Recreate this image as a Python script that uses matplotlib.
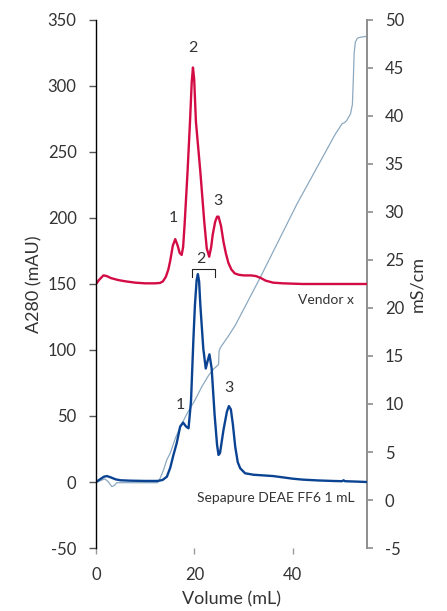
import matplotlib
matplotlib.use('Agg')
import matplotlib.pyplot as plt

plt.rcParams['font.family'] = ['Lato', 'DejaVu Sans']
plt.rcParams['axes.unicode_minus'] = False

# Vendor x (A280, mAU)
vendor_x = [0, 0.6, 1.5, 2.2, 3.0, 4.5, 6, 8, 10, 12, 13, 13.6, 14.2, 14.7, 15.1, 15.6,
            16.1, 16.6, 17.0, 17.4, 17.7, 18.0, 18.6, 19.1, 19.45, 19.7, 19.95, 20.3,
            21.2, 22.0, 22.5, 23.0, 23.4, 23.7, 24.2, 24.6, 24.9, 25.4, 25.9, 26.4,
            26.9, 27.5, 28.2, 29, 30, 31.5, 32.5, 33.5, 34.5, 36, 38, 42, 46, 50, 55]
vendor_y = [150, 153, 156.5, 156, 154.5, 153, 152, 151, 150.5, 150.5, 150.8, 152, 155.5,
            161, 168, 179, 184, 179, 173.5, 172, 178, 195, 235, 273, 303, 314, 305, 273,
            235, 197, 177, 170.7, 178, 187, 197, 201, 201, 194, 182, 173,
            166, 161, 158, 157, 156.5, 156.5, 156, 154.5, 152.5, 151, 150.5, 150, 150, 150, 150]

# Sepapure DEAE FF6 1 mL (A280, mAU)
sepa_x = [0, 0.8, 1.6, 2.2, 3.0, 4.0, 5.0, 7, 10, 12.5, 13.5, 14.4, 15.1, 15.7, 16.4,
          17.1, 17.7, 18.3, 18.8, 19.3, 19.8, 20.1, 20.45, 20.7, 20.95, 21.2, 21.8,
          22.3, 22.7, 23.05, 23.5, 24.1, 24.6, 24.9, 25.2, 25.9, 26.6, 27.0, 27.4,
          27.8, 28.3, 28.8, 29.3, 30.3, 32, 34, 36, 38, 40, 42, 45, 48, 50, 50.3, 50.6, 53, 55]
sepa_y = [0, 2, 4, 4.5, 3.5, 2, 1.3, 1, 0.8, 0.8, 1.5, 4, 11, 20, 29.5,
          42, 45, 42, 40.7, 61, 109, 134, 153, 157.5, 152, 134, 101,
          86, 92, 96.7, 86, 50.8, 28, 20.5, 22, 39.4, 53.3, 57.5, 55,
          44, 26.4, 15, 10.4, 6.6, 5.5, 5, 4.5, 3.5, 2.5, 1.8, 1.2, 0.8, 0.6, 1.3, 0.6, 0.3, 0]

# conductivity (mS/cm)
cond_x = [0, 0.8, 1.8, 2.5, 3.2, 3.7, 4.2, 8, 12.5, 12.8, 13.3, 13.7, 14.4, 15.1, 16.1,
          17.1, 18.5, 20.1, 21.5, 22.9, 24.0, 24.9, 25.0, 25.3, 26.8, 28.3, 33.2, 40.8,
          46.9, 48.5, 49.5, 50.0, 50.5, 50.9, 51.7, 52.1, 52.3, 52.45, 52.7, 53.1, 53.7, 55]
cond_y = [1.8, 2.0, 2.2, 1.9, 1.4, 1.5, 1.8, 1.8, 1.8, 2.0, 2.6, 3.1, 4.2, 4.9, 6.4,
          7.6, 9.0, 10.4, 11.8, 13.0, 13.7, 14.1, 15.5, 15.9, 17.0, 18.2, 23.0, 30.8,
          36.5, 38.0, 38.8, 39.2, 39.3, 39.5, 40.2, 41.2, 44, 46.5, 47.7, 48.1, 48.2, 48.3]

# peak labels (text, x, y)
vendor_peaks = [('1', 15.7, 200), ('2', 19.7, 329), ('3', 24.8, 213)]
sepa_peaks = [('1', 17.1, 58), ('2', 21.4, 169), ('3', 27.1, 71)]

RED = '#D40C45'
BLUE = '#0B4393'
GRAY = '#8CA9C0'
TXT = '#333333'

fig = plt.figure(figsize=(4.47, 6.11), dpi=100)
ax = fig.add_axes([0.2148, 0.1031, 0.6055, 0.8642])
ax2 = ax.twinx()
ax.set_zorder(ax2.get_zorder() + 1)
ax.patch.set_visible(False)

ax2.plot(cond_x, cond_y, color=GRAY, lw=0.9)
ax.plot(vendor_x, vendor_y, color=RED, lw=1.7, solid_joinstyle='round')
ax.plot(sepa_x, sepa_y, color=BLUE, lw=1.7, solid_joinstyle='round')

for t, x, y in vendor_peaks + sepa_peaks:
    ax.text(x, y, t, ha='center', va='center', fontsize=11.5, color=TXT)

# bracket over blue peak 2
ax.plot([19.5, 19.5, 24.1, 24.1], [155, 161, 161, 155], color='#222222', lw=0.8)

ax.text(52.5, 138, 'Vendor x', ha='right', va='center', fontsize=10, color=TXT)
ax.text(52.5, -12, 'Sepapure DEAE FF6 1 mL', ha='right', va='center', fontsize=10, color=TXT)

ax.set_xlim(0, 55)
ax.set_ylim(-50, 350)
ax2.set_ylim(-5, 50)
ax.set_xticks([0, 20, 40])
ax.set_yticks(range(-50, 351, 50))
ax2.set_yticks(range(-5, 51, 5))

for s in ['top', 'right', 'bottom']:
    ax.spines[s].set_visible(False)
for s in ['top', 'left', 'bottom']:
    ax2.spines[s].set_visible(False)
ax.spines['left'].set_color('black')
ax.spines['left'].set_linewidth(1.0)
ax2.spines['right'].set_color('#8E8E8E')
ax2.spines['right'].set_linewidth(1.4)

ax.tick_params(axis='y', length=5, width=1, color='#555555', pad=9, labelsize=12, labelcolor=TXT)
ax.tick_params(axis='x', length=4, width=1, color='#999999', pad=10, labelsize=12, labelcolor=TXT)
ax2.tick_params(axis='y', length=4, width=1.2, color='#8E8E8E', pad=9, labelsize=12, labelcolor=TXT)

ax.set_ylabel('A280 (mAU)', fontsize=13, color=TXT, labelpad=4)
ax2.set_ylabel('mS/cm', fontsize=13, color=TXT, labelpad=4)
ax.set_xlabel('Volume (mL)', fontsize=13, color=TXT, labelpad=6)

fig.savefig('out.png', dpi=100)
